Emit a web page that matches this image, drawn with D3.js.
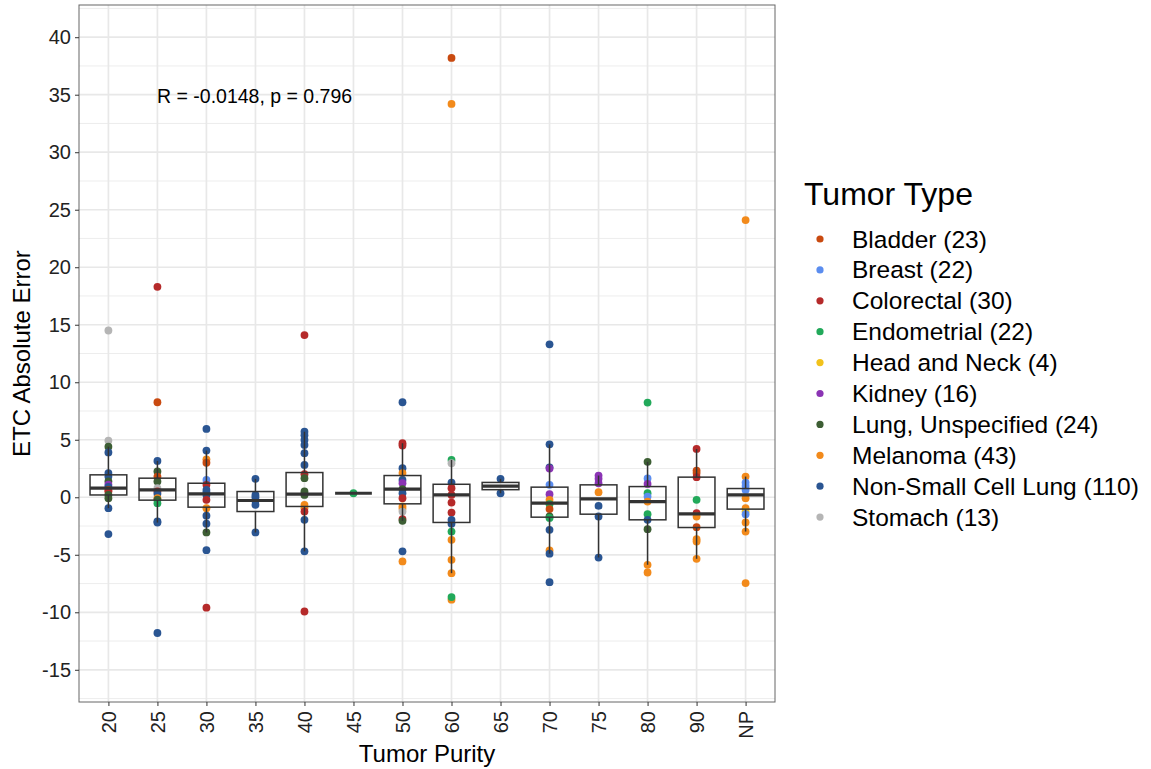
<!DOCTYPE html>
<html>
<head>
<meta charset="utf-8">
<script src="https://cdn.jsdelivr.net/npm/d3@7"></script>
<style>
  body { margin: 0; background: #fff; }
  text { font-family: "Liberation Sans", Arial, Helvetica, sans-serif; }
</style>
</head>
<body>
<div id="chart"></div>
<script>
"use strict";

// categories
const purityLevels = ["20", "25", "30", "35", "40", "45", "50", "60", "65", "70", "75", "80", "90", "NP"];
const tumorTypes = ["Bladder", "Breast", "Colorectal", "Endometrial", "Head and Neck", "Kidney",
  "Lung, Unspecified", "Melanoma", "Non-Small Cell Lung", "Stomach"];
const typeCounts = [23, 22, 30, 22, 4, 16, 24, 43, 110, 13];
const typeColors = ["#c94a10", "#5b8def", "#b52a2a", "#22a95a", "#f2c21b", "#8b34b4",
  "#3d5e34", "#f28a1b", "#2a5592", "#b5b5b5"];

// y ticks
const yTicks = [-15, -10, -5, 0, 5, 10, 15, 20, 25, 30, 35, 40];
const yMinor = [-17.5, -12.5, -7.5, -2.5, 2.5, 7.5, 12.5, 17.5, 22.5, 27.5, 32.5, 37.5, 42.5];

// box stats, one per purity level
const whiskerLow  = [-0.95, -2.2, -3.06, -3.06, -4.7, 0.35, -2.05, -6.6, 0.35, -4.9, -5.24, -5.87, -5.35, -2.98];
const boxQ1       = [0.2, -0.25, -0.86, -1.24, -0.8, 0.35, -0.57, -2.19, 0.66, -1.73, -1.47, -1.96, -2.63, -1.03];
const boxMedian   = [0.8, 0.64, 0.3, -0.28, 0.27, 0.35, 0.7, 0.2, 0.97, -0.51, -0.14, -0.37, -1.44, 0.2];
const boxQ3       = [1.95, 1.66, 1.22, 0.5, 2.15, 0.35, 1.89, 1.13, 1.29, 0.88, 1.08, 0.93, 1.75, 0.76];
const whiskerHigh = [4.4, 3.16, 4.06, 1.6, 5.7, 0.35, 4.7, 3.25, 1.6, 4.6, 1.89, 3.08, 4.2, 1.8];

// samples: [purity, tumor type index, absolute error]
const points = [
  ["20", 9, 14.5], ["20", 9, 4.93], ["20", 6, 4.4], ["20", 8, 3.9], ["20", 8, 2.1], ["20", 8, 1.8],
  ["20", 6, 1.37], ["20", 5, 1.1], ["20", 8, 0.9], ["20", 0, 0.64], ["20", 2, 0.5], ["20", 6, 0.2],
  ["20", 6, -0.08], ["20", 8, -0.95], ["20", 8, -3.2],
  ["25", 2, 18.3], ["25", 0, 8.26], ["25", 8, 3.16], ["25", 6, 2.24], ["25", 0, 1.8], ["25", 6, 1.37],
  ["25", 9, 0.79], ["25", 2, 0.5], ["25", 8, 0.3], ["25", 7, -0.08], ["25", 6, -0.2], ["25", 3, -0.51],
  ["25", 8, -2.1], ["25", 8, -2.2], ["25", 8, -11.8],
  ["30", 8, 5.94], ["30", 8, 4.06], ["30", 7, 3.3], ["30", 0, 3.0], ["30", 1, 1.5], ["30", 2, 1.08],
  ["30", 8, 0.64], ["30", 8, 0.4], ["30", 8, 0.2], ["30", 2, -0.22], ["30", 7, -0.95], ["30", 8, -1.6],
  ["30", 8, -2.3], ["30", 6, -3.06], ["30", 8, -4.6], ["30", 2, -9.6],
  ["35", 8, 1.6], ["35", 8, 0.2], ["35", 8, 0.0], ["35", 8, -0.3], ["35", 8, -0.66], ["35", 8, -3.06],
  ["40", 2, 14.1], ["40", 8, 5.7], ["40", 8, 5.4], ["40", 8, 4.99], ["40", 8, 4.55], ["40", 8, 3.83],
  ["40", 8, 2.81], ["40", 2, 2.0], ["40", 6, 1.66], ["40", 6, 0.5], ["40", 6, 0.3], ["40", 6, 0.2],
  ["40", 7, -0.66], ["40", 7, -0.95], ["40", 2, -1.24], ["40", 8, -1.96], ["40", 8, -4.7], ["40", 2, -9.93],
  ["45", 3, 0.35],
  ["50", 8, 8.26], ["50", 2, 4.7], ["50", 2, 4.5], ["50", 8, 2.53], ["50", 7, 2.1], ["50", 8, 1.5],
  ["50", 5, 1.22], ["50", 6, 0.7], ["50", 8, 0.35], ["50", 2, -0.08], ["50", 7, -0.8], ["50", 7, -1.0],
  ["50", 9, -1.24], ["50", 2, -1.9], ["50", 6, -2.05], ["50", 8, -4.7], ["50", 7, -5.58],
  ["60", 0, 38.2], ["60", 7, 34.2], ["60", 3, 3.25], ["60", 9, 2.96], ["60", 8, 1.28], ["60", 2, 0.79],
  ["60", 2, 0.2], ["60", 2, -0.46], ["60", 2, -1.33], ["60", 8, -1.96], ["60", 8, -2.3], ["60", 3, -2.98],
  ["60", 7, -3.7], ["60", 7, -5.44], ["60", 7, -6.6], ["60", 7, -8.9], ["60", 3, -8.68],
  ["65", 8, 1.6], ["65", 8, 0.35],
  ["70", 8, 13.3], ["70", 8, 4.6], ["70", 8, 2.6], ["70", 5, 2.5], ["70", 1, 1.08], ["70", 5, 0.27],
  ["70", 7, -0.22], ["70", 3, -0.6], ["70", 0, -1.03], ["70", 6, -1.67], ["70", 3, -1.8], ["70", 8, -2.83],
  ["70", 7, -4.63], ["70", 8, -4.9], ["70", 8, -7.38],
  ["75", 5, 1.89], ["75", 5, 1.6], ["75", 5, 1.22], ["75", 7, 0.44], ["75", 8, -0.75], ["75", 8, -1.67],
  ["75", 8, -5.24],
  ["80", 3, 8.23], ["80", 6, 3.08], ["80", 1, 1.63], ["80", 5, 1.16], ["80", 3, 0.35], ["80", 1, 0.06],
  ["80", 7, -0.37], ["80", 3, -1.47], ["80", 8, -1.96], ["80", 6, -2.77], ["80", 7, -5.87], ["80", 7, -6.54],
  ["90", 2, 4.2], ["90", 0, 2.32], ["90", 0, 2.1], ["90", 2, 1.75], ["90", 3, -0.22], ["90", 2, -1.38],
  ["90", 7, -1.67], ["90", 0, -2.6], ["90", 7, -3.64], ["90", 7, -3.85], ["90", 7, -5.35],
  ["NP", 7, 24.1], ["NP", 7, 1.8], ["NP", 1, 1.28], ["NP", 1, 0.99], ["NP", 1, 0.64], ["NP", 7, -0.08],
  ["NP", 7, -0.95], ["NP", 4, -1.24], ["NP", 1, -1.47], ["NP", 7, -2.19], ["NP", 7, -2.98], ["NP", 7, -7.46]
];

const annotation = "R = -0.0148, p = 0.796";

const W = 1151, H = 769;
const panel = { left: 79, right: 775, top: 5, bottom: 702 };

const svg = d3.select("#chart").append("svg")
  .attr("width", W).attr("height", H);

const x = d3.scalePoint()
  .domain(purityLevels)
  .range([panel.left, panel.right])
  .padding(0.6);

const y = d3.scaleLinear()
  .domain([-17.8, 42.8])
  .range([panel.bottom, panel.top]);

const step = x.step();
const boxW = step * 0.75;

// grid
const grid = svg.append("g");
grid.selectAll(".minor").data(yMinor).join("line")
  .attr("x1", panel.left).attr("x2", panel.right)
  .attr("y1", d => y(d)).attr("y2", d => y(d))
  .attr("stroke", "#ebebeb").attr("stroke-width", 0.9);
grid.selectAll(".majorY").data(yTicks).join("line")
  .attr("x1", panel.left).attr("x2", panel.right)
  .attr("y1", d => y(d)).attr("y2", d => y(d))
  .attr("stroke", "#e8e8e8").attr("stroke-width", 1.7);
grid.selectAll(".majorX").data(purityLevels).join("line")
  .attr("x1", d => x(d)).attr("x2", d => x(d))
  .attr("y1", panel.top).attr("y2", panel.bottom)
  .attr("stroke", "#e8e8e8").attr("stroke-width", 1.7);

// points
svg.append("g").selectAll("circle").data(points).join("circle")
  .attr("cx", d => x(d[0]))
  .attr("cy", d => y(d[2]))
  .attr("r", 3.9)
  .attr("fill", d => typeColors[d[1]]);

// boxes drawn on top, no fill
const boxes = svg.append("g").selectAll("g").data(purityLevels).join("g")
  .attr("stroke", "#333").attr("fill", "none");
boxes.append("line")
  .attr("x1", d => x(d)).attr("x2", d => x(d))
  .attr("y1", (d, i) => y(boxQ3[i])).attr("y2", (d, i) => y(whiskerHigh[i]))
  .attr("stroke-width", 1.5);
boxes.append("line")
  .attr("x1", d => x(d)).attr("x2", d => x(d))
  .attr("y1", (d, i) => y(boxQ1[i])).attr("y2", (d, i) => y(whiskerLow[i]))
  .attr("stroke-width", 1.5);
boxes.append("rect")
  .attr("x", d => x(d) - boxW / 2).attr("width", boxW)
  .attr("y", (d, i) => y(boxQ3[i]))
  .attr("height", (d, i) => y(boxQ1[i]) - y(boxQ3[i]))
  .attr("stroke-width", 1.5);
boxes.append("line")
  .attr("x1", d => x(d) - boxW / 2).attr("x2", d => x(d) + boxW / 2)
  .attr("y1", (d, i) => y(boxMedian[i])).attr("y2", (d, i) => y(boxMedian[i]))
  .attr("stroke-width", 3.2);

// panel border
svg.append("rect")
  .attr("x", panel.left).attr("y", panel.top)
  .attr("width", panel.right - panel.left).attr("height", panel.bottom - panel.top)
  .attr("fill", "none").attr("stroke", "#666").attr("stroke-width", 1);

// axes (plain hyphen for negatives, like R)
const yAxis = svg.append("g")
  .attr("transform", `translate(${panel.left},0)`)
  .call(d3.axisLeft(y).tickValues(yTicks).tickFormat(d => String(d)).tickSize(4).tickPadding(4));
yAxis.select(".domain").remove();
yAxis.selectAll(".tick line").attr("stroke", "#333");
yAxis.selectAll(".tick text")
  .attr("fill", "#222").style("font-size", "20px")
  .style("font-family", "'Liberation Sans', Arial, sans-serif");

const xAxis = svg.append("g")
  .attr("transform", `translate(0,${panel.bottom})`)
  .call(d3.axisBottom(x).tickSize(4).tickPadding(0));
xAxis.select(".domain").remove();
xAxis.selectAll(".tick line").attr("stroke", "#333");
xAxis.selectAll(".tick text")
  .attr("fill", "#222").style("font-size", "20px")
  .style("font-family", "'Liberation Sans', Arial, sans-serif")
  .attr("transform", "rotate(-90)")
  .attr("x", -9).attr("y", 0).attr("dy", "0.35em")
  .attr("text-anchor", "end");

// axis titles
svg.append("text")
  .attr("x", (panel.left + panel.right) / 2).attr("y", 762)
  .attr("text-anchor", "middle")
  .style("font-size", "24px").attr("fill", "#000")
  .text("Tumor Purity");

svg.append("text")
  .attr("transform", `translate(30,${(panel.top + panel.bottom) / 2}) rotate(-90)`)
  .attr("text-anchor", "middle")
  .style("font-size", "24px").attr("fill", "#000")
  .text("ETC Absolute Error");

// correlation label
svg.append("text")
  .attr("x", 157).attr("y", 103)
  .style("font-size", "19.5px").attr("fill", "#000")
  .text(annotation);

// legend
const legend = svg.append("g");
legend.append("text")
  .attr("x", 804).attr("y", 205)
  .style("font-size", "32px").attr("fill", "#000")
  .text("Tumor Type");

const rows = legend.selectAll(".row").data(tumorTypes).join("g")
  .attr("transform", (d, i) => `translate(0,${239 + i * 30.9})`);
rows.append("circle")
  .attr("cx", 820).attr("cy", 0).attr("r", 3.6)
  .attr("fill", (d, i) => typeColors[i]);
rows.append("text")
  .attr("x", 852).attr("y", 0).attr("dy", "0.35em")
  .style("font-size", "24.5px").attr("fill", "#000")
  .text((d, i) => `${d} (${typeCounts[i]})`);
</script>
</body>
</html>
